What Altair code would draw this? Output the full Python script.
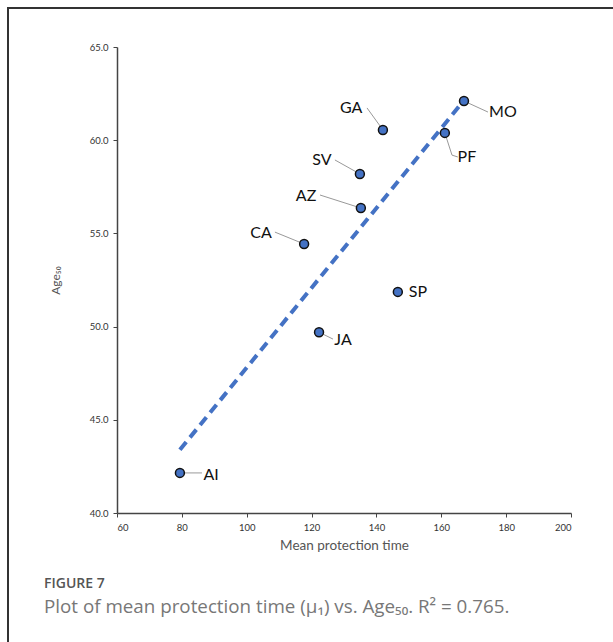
import altair as alt
import pandas as pd

# ---- data ----
sites = ["AI", "JA", "SP", "CA", "AZ", "SV", "GA", "PF", "MO"]
mean_time = [79.4, 122.3, 146.6, 117.7, 135.2, 134.9, 142.0, 161.1, 167.0]
age50 = [42.15, 49.7, 51.86, 54.43, 56.36, 58.19, 60.55, 60.39, 62.1]

# label anchor positions (data units)
label_x = [89.0, 129.7, 152.8, 104.4, 118.3, 123.2, 132.2, 167.9, 179.0]
label_y = [42.04, 49.28, 51.86, 55.02, 57.0, 58.94, 61.73, 59.1, 61.51]

# leader-line start points (data units); SP has none, PF bends
leader_pts = {
    "AI": [(86.2, 42.15)],
    "JA": [(126.6, 49.33)],
    "CA": [(108.7, 55.07)],
    "AZ": [(122.6, 57.06)],
    "SV": [(127.2, 58.94)],
    "GA": [(137.1, 61.73)],
    "PF": [(165.1, 59.1), (163.3, 59.2)],
    "MO": [(174.4, 61.51)],
}

x_ticks = [60, 80, 100, 120, 140, 160, 180, 200]
y_ticks = [40, 45, 50, 55, 60, 65]

df = pd.DataFrame({"site": sites, "mean_time": mean_time, "age50": age50,
                   "lx": label_x, "ly": label_y})

rows = []
for s, pts in leader_pts.items():
    i = sites.index(s)
    seq = 0
    for (a, b) in pts:
        rows.append({"site": s, "x": a, "y": b, "seq": seq})
        seq += 1
    rows.append({"site": s, "x": mean_time[i], "y": age50[i], "seq": seq})
leaders = pd.DataFrame(rows)

FONT = "Lato"
xs = alt.Scale(domain=[60, 200], nice=False, zero=False)
ys = alt.Scale(domain=[40, 65], nice=False, zero=False)

x_axis = alt.Axis(values=x_ticks, title="Mean protection time", grid=False,
                  labelFontSize=9.5, labelColor="#333", labelFont=FONT,
                  titleFont=FONT, titleFontSize=13.5, titleColor="#555",
                  titleFontWeight="normal", titlePadding=7,
                  domainColor="#444", tickColor="#444", tickSize=4,
                  labelPadding=5, domainWidth=1.5)
y_axis = alt.Axis(values=y_ticks, format=".1f", title="Age₅₀", grid=False,
                  labelFontSize=9.5, labelColor="#333", labelFont=FONT,
                  titleFont=FONT, titleFontSize=12, titleColor="#555",
                  titleFontWeight="normal", titlePadding=27,
                  domainColor="#444", tickColor="#444", tickSize=4,
                  labelPadding=5, domainWidth=1.5)

base = alt.Chart(df)

reg = base.transform_regression("mean_time", "age50").mark_line(
    color="#4472C4", strokeWidth=4, strokeDash=[10, 6], strokeCap="butt"
).encode(
    x=alt.X("mean_time:Q", scale=xs, axis=x_axis),
    y=alt.Y("age50:Q", scale=ys, axis=y_axis),
)

lead = alt.Chart(leaders).mark_line(color="#999", strokeWidth=1).encode(
    x=alt.X("x:Q", scale=xs),
    y=alt.Y("y:Q", scale=ys),
    detail="site:N",
    order="seq:Q",
)

pts = base.mark_point(filled=True, shape="circle", size=80, fill="#4472C4",
                      stroke="#111", strokeWidth=1.5, opacity=1).encode(
    x=alt.X("mean_time:Q", scale=xs),
    y=alt.Y("age50:Q", scale=ys),
)

labels = base.mark_text(font=FONT, fontSize=16, color="#111",
                        align="center", baseline="middle").encode(
    x=alt.X("lx:Q", scale=xs),
    y=alt.Y("ly:Q", scale=ys),
    text="site:N",
)

one = alt.Chart(pd.DataFrame({"a": [0]}))
frame_top = one.mark_rule(color="#333", strokeWidth=2).encode(
    x=alt.value(-109), x2=alt.value(500), y=alt.value(-39))
frame_left = one.mark_rule(color="#333", strokeWidth=2).encode(
    x=alt.value(-109), y=alt.value(-40), y2=alt.value(600))

cap1 = one.mark_text(font="Open Sans", fontSize=14, color="#555", fontWeight=600,
                     align="left", baseline="alphabetic").encode(
    x=alt.value(-73), y=alt.value(541), text=alt.value("FIGURE 7"))
cap2 = one.mark_text(font="Open Sans", fontSize=18.8, color="#777",
                     align="left", baseline="alphabetic").encode(
    x=alt.value(-73), y=alt.value(566),
    text=alt.value("Plot of mean protection time (μ₁) vs. Age₅₀. R² = 0.765."))

chart = alt.layer(reg, lead, pts, labels, frame_top, frame_left, cap1, cap2).properties(
    width=454, height=466,
    autosize=alt.AutoSizeParams(type="none"),
    padding={"left": 117, "top": 47, "right": 42, "bottom": 129},
    background="white",
).configure_view(stroke=None)

chart.save("out.html", embed_options={"renderer": "svg", "actions": False})
